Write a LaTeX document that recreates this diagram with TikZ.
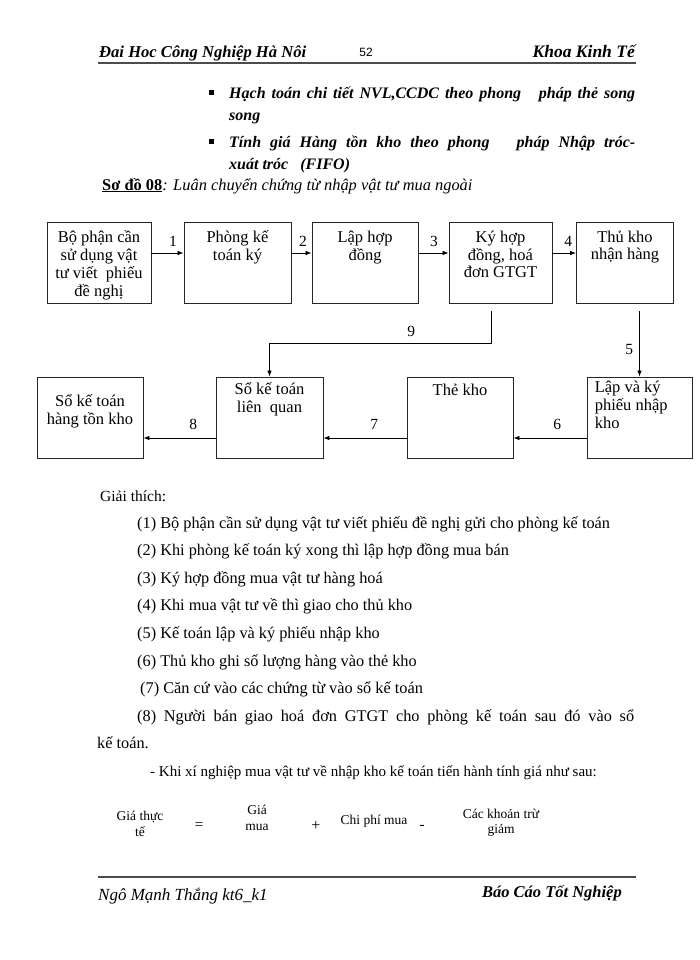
\documentclass[tikz,border=0pt]{standalone}
\usepackage{fontspec}
\setmainfont{Liberation Serif}
\setsansfont{Liberation Sans}
\usetikzlibrary{arrows.meta,positioning}

\tikzset{
  stepbox/.style={draw=black!85, line width=0.9pt, minimum height=81pt, inner sep=0pt},
  boxtext/.style={align=center, inner sep=0pt, font=\fontsize{16.5}{17.8}\selectfont, execute at begin node=\strut},
  flow/.style={-{Latex[length=6pt,width=4.5pt]}, line width=0.7pt},
  num/.style={inner sep=0pt, font=\fontsize{15.5}{17}\selectfont},
  rule/.style={line width=2pt, black!70},
  body/.style={anchor=base west, inner sep=0pt, font=\fontsize{16.3}{18}\selectfont},
  bold it/.style={anchor=base west, inner sep=0pt, font=\bfseries\itshape\fontsize{16}{18}\selectfont},
  formula/.style={align=center, inner sep=0pt, font=\fontsize{13.5}{15.5}\selectfont},
}

\begin{document}
\begin{tikzpicture}[x=1pt,y=-1pt]
\useasboundingbox[fill=white] (0,0) rectangle (700,960);

% header and footer
\node[bold it, font=\bfseries\itshape\fontsize{16.6}{18}\selectfont] (head left) at (99,58) {Đai Hoc Công Nghiệp Hà Nôi};
\node[inner sep=0pt, font=\sffamily\fontsize{12}{14}\selectfont] (page) at (366,52) {52};
\node[bold it, anchor=base east, font=\bfseries\itshape\fontsize{17.5}{18}\selectfont] (head right) at (635,58) {Khoa Kinh Tế};
\draw[rule] (98,63) -- (636,63);
\draw[rule] (98,877) -- (636,877);
\node[body, font=\itshape\fontsize{17}{18}\selectfont] (foot left) at (98,900) {Ngô Mạnh Thắng kt6\_k1};
\node[bold it, anchor=base east, font=\bfseries\itshape\fontsize{16.5}{18}\selectfont] (foot right) at (622,897) {Báo Cáo Tốt Nghiệp};

% bullets
\fill (209,90) rectangle (214,95);
\fill (209,139) rectangle (214,144);
\node[bold it] (bul1) at (229,99) {\makebox[406pt][s]{Hạch toán chi tiết NVL,CCDC theo phong\ \ \ pháp thẻ song}};
\node[bold it] (bul1b) at (229,121) {song};
\node[bold it] (bul2) at (229,148) {\makebox[406pt][s]{Tính giá Hàng tồn kho theo phong\ \ \ pháp Nhập tróc-}};
\node[bold it] (bul2b) at (229,170) {xuát tróc\ \ \ (FIFO)};
\node[body, font=\fontsize{16.4}{18}\selectfont] (caption) at (102,190) {\underline{\textbf{Sơ đồ 08}}\textit{: Luân chuyển chứng từ nhập vật tư mua ngoài}};

% top row
\node[stepbox, minimum width=104pt] (b1) at (99,263) {};
\node[stepbox, minimum width=107pt] (b2) at (237.5,263) {};
\node[stepbox, minimum width=106pt] (b3) at (365,263) {};
\node[stepbox, minimum width=103pt] (b4) at (500.5,263) {};
\node[stepbox, minimum width=97pt] (b5) at (625,263) {};
\node[boxtext, below=8.5pt of b1.north] (t1) {Bộ phận cần\\sử dụng vật\\tư viết\ \ phiếu\\đề nghị};
\node[boxtext, below=8.5pt of b2.north] (t2) {Phòng kế\\toán ký};
\node[boxtext, below=8.5pt of b3.north] (t3) {Lập hợp\\đồng};
\node[boxtext, below=8.5pt of b4.north] (t4) {Ký hợp\\đồng, hoá\\đơn GTGT};
\node[boxtext, below=8.5pt of b5.north] (t5) {Thủ kho\\nhận hàng};

% bottom row
\node[stepbox, minimum width=106pt] (c1) at (90,417.5) {};
\node[stepbox, minimum width=107pt] (c2) at (269.5,417.5) {};
\node[stepbox, minimum width=106pt] (c3) at (460,417.5) {};
\node[stepbox, minimum width=105pt] (c4) at (639.5,417.5) {};
\node[boxtext, below=17.5pt of c1.north] (u1) {Sổ kế toán\\hàng tồn kho};
\node[boxtext, below=5.5pt of c2.north] (u2) {Sổ kế toán\\liên\ \ quan};
\node[boxtext, below=6.5pt of c3.north] (u3) {Thẻ kho};
\node[boxtext, align=left, below right=4.5pt and 8pt of c4.north west] (u4) {Lập và ký\\phiếu nhập\\kho};

% flow
\draw[flow] ([yshift=10pt]b1.east) -- node[num, above=6pt, pos=0.67] {1} ([yshift=10pt]b2.west);
\draw[flow] ([yshift=10pt]b2.east) -- node[num, above=6pt, pos=0.57] {2} ([yshift=10pt]b3.west);
\draw[flow] ([yshift=10pt]b3.east) -- node[num, above=6pt, pos=0.52] {3} ([yshift=10pt]b4.west);
\draw[flow] ([yshift=10pt]b4.east) -- node[num, above=6pt, pos=0.67] {4} ([yshift=10pt]b5.west);
\coordinate (s5) at (639.5,311);
\coordinate (s9) at (491,311);
\coordinate (k9) at (491,343);
\draw[flow] (s5) -- node[num, left=6pt, pos=0.58] {5} (c4.north);
\draw[flow] ([yshift=-20.5pt]c4.west) -- node[num, above=8pt, pos=0.4] {6} ([yshift=-20.5pt]c3.east);
\draw[flow] ([yshift=-20.5pt]c3.west) -- node[num, above=8pt, pos=0.39] {7} ([yshift=-20.5pt]c2.east);
\draw[flow] ([yshift=-20.5pt]c2.west) -- node[num, above=8pt, pos=0.31] {8} ([yshift=-20.5pt]c1.east);
\draw[flow] (s9) -- (k9) -| node[num, above=6pt, pos=0.18] {9} (c2.north);

% explanation
\node[body, font=\fontsize{15.5}{18}\selectfont] (gt) at (100,501) {Giải thích:};
\node[body] (e1) at (137,528) {(1) Bộ phận cần sử dụng vật tư viết\ phiếu đề nghị gửi cho phòng kế toán};
\node[body] (e2) at (137,555) {(2) Khi phòng kế toán ký xong thì lập hợp đồng mua bán};
\node[body] (e3) at (137,583) {(3) Ký hợp đồng mua vật tư hàng hoá};
\node[body] (e4) at (137,610) {(4) Khi mua vật tư về thì giao cho thủ kho};
\node[body] (e5) at (137,638) {(5) Kế toán lập và ký phiếu nhập kho};
\node[body] (e6) at (137,666) {(6) Thủ kho ghi\ số lượng hàng vào thẻ kho};
\node[body] (e7) at (140,693) {(7) Căn cứ vào các chứng từ vào sổ kế toán};
\node[body] (e8) at (137,721) {\makebox[497pt][s]{(8) Người bán giao hoá đơn GTGT cho phòng kế toán sau đó vào sổ}};
\node[body] (e8b) at (97,748) {kế toán.};
\node[body, font=\fontsize{15}{18}\selectfont] (e9) at (150,776) {- Khi xí nghiệp mua vật tư về nhập kho kế toán tiến hành tính giá như sau:};

% formula
\node[formula] (f1) at (140,824) {Giá thực\\tế};
\node[formula, font=\fontsize{15}{15}\selectfont] (f2) at (199,826) {=};
\node[formula] (f3) at (257,818) {Giá\\mua};
\node[formula, font=\fontsize{16}{16}\selectfont] (f4) at (316,826) {+};
\node[formula] (f5) at (374,821) {Chi phí mua};
\node[formula, font=\fontsize{15}{15}\selectfont] (f6) at (422,827) {-};
\node[formula] (f7) at (501,823) {Các khoản trừ\\giảm};
\end{tikzpicture}
\end{document}
